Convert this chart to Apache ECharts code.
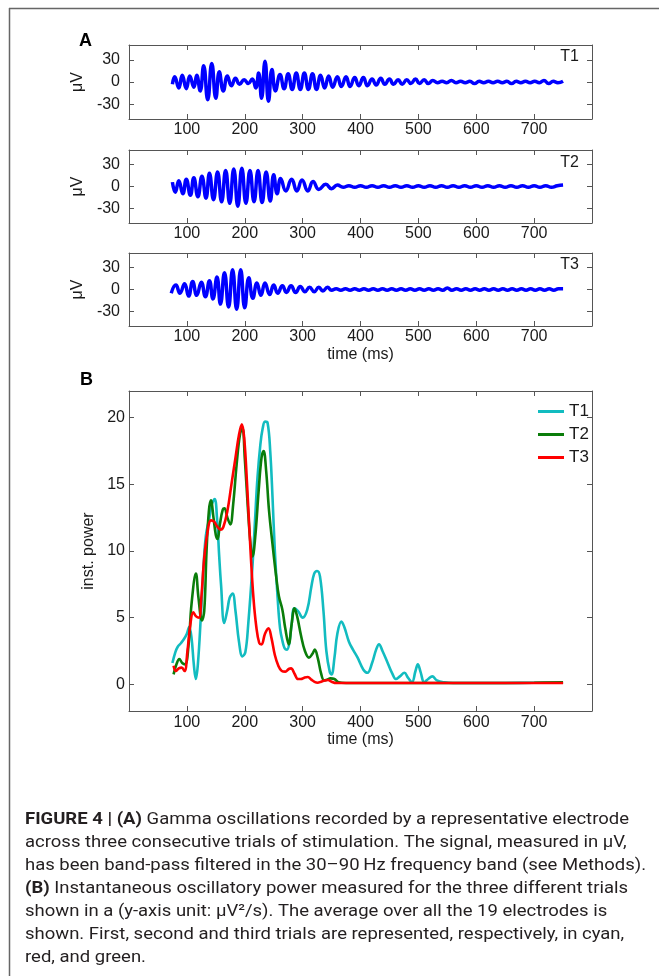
<!DOCTYPE html>
<html>
<head>
<meta charset="utf-8">
<script src="https://cdn.jsdelivr.net/npm/echarts@6/dist/echarts.min.js"></script>
<style>
html,body{margin:0;padding:0;background:#fff;}
#chart{width:659px;height:976px;}
</style>
</head>
<body>
<div id="chart"></div>
<script>
// ---------------- DATA ----------------
const xTicks = [100, 200, 300, 400, 500, 600, 700];
const yTicksA = [-30, 0, 30];
const yTicksB = [0, 5, 10, 15, 20];
const trialNames = ['T1', 'T2', 'T3'];

// Panel A: band-pass filtered signal (uV), read at extrema
const a1T = [75,79,86,92,99,105,112,117,123,129,136,143,150,156,163,170,177,184,191,199,206,213,219,224,229,235,241,247,253,261,268,275,282,289,296,303,310,317,324,331,338,345,352,360,367,375,382,390,397,405,412,420,427,435,442,450,457,465,472,480,487,495,502,510,517,525,533,541,549,557,565,573,581,589,597,605,613,621,629,637,645,653,661,669,677,685,693,701,709,717,725,733,741,750];
const a1V = [-3,7,-8,9,-9,8,-7,9,-12,22,-24,25,-22,14,-12,8,-5,5,-3,3,-2,4,-8,12,-22,28,-26,17,-12,10,-9,11,-10,12,-10,12,-10,11,-10,9,-8,8,-7,7,-6,7,-6,6,-5,6,-5,4,-4,5,-3,4,-3,3,-3,3,-2,4,-2,3,-2,2,-1,1,-1,2,-1,1,-1,1,-2,1,-1,1,-1,1,-1,1,-2,1,-1,1,-1,1,-1,2,-2,1,-1,1,-1,1];

const a2T = [75,80,86,93,99,106,112,119,126,133,139,146,153,160,167,174,181,188,195,202,209,216,223,230,237,244,250,256,262,271,281,290,299,309,318,328,340,350,360,370,380,390,400,410,420,430,440,450,460,470,480,490,500,510,520,530,540,550,560,570,580,590,600,610,620,630,640,650,660,670,680,690,700,710,720,730,740,750];
const a2V = [6,-8,8,-10,10,-12,12,-14,14,-16,18,-18,20,-21,22,-23,24,-27,25,-23,22,-21,22,-22,20,-20,16,-10,11,-6,10,-6,9,-6,7,-4,3,-3,2,-1,1,-1,1,-1,1,-1,1,-1,1,-1,1,-1,1,-1,1,-1,1,-1,1,-1,1,-1,1,-1,1,-1,1,-1,1,-1,1,-1,1,-1,1,-1,1,2];

const a3T = [73,81,88,96,103,110,117,125,132,139,145,152,158,165,172,179,186,193,200,207,214,221,228,235,243,250,257,265,272,280,288,296,304,312,320,328,335,343,350,358,366,374,382,390,398,406,414,422,430,438,446,454,462,470,478,486,494,502,510,518,526,534,542,550,558,566,574,582,590,598,606,614,622,630,638,646,654,662,670,678,686,694,702,710,718,726,734,742,750];
const a3V = [-5,6,-5,8,-9,11,-8,10,-10,12,-13,17,-20,23,-24,27,-27,27,-25,16,-12,9,-8,9,-7,6,-5,5,-4,5,-4,4,-3,3,-3,3,-2,3,-1,1,-1,1,-1,1,-1,1,-1,1,-1,1,-1,1,-1,1,-1,1,-1,1,-1,1,-1,1,-1,2,-1,1,-1,1,-1,1,-1,1,-1,1,-1,1,-1,1,-1,1,-1,1,-1,1,-1,1,-1,1,1];

// Panel B: instantaneous power
const b1T = [75,80,84,90,95,100,104,108,112,115.5,119,124,129,133,138.5,143,148,152,156,159,164.6,170,174,179,184,190,196,201,206,213.5,218,222,227,231,235,239.5,244,248,252,256.8,261,265.4,269,273,277,281,285.6,292,300,308,315,320,325,330,336,341,347,350,355,360,367,372,380,387,395,405,412,420,427,432,438,447,455,461,468,476,482,489,495,499,504,510,517,524,532,545,560,600,650,700,750];
const b1V = [1.6,2.4,2.8,3.1,3.4,3.8,4.3,3.5,1.5,0.4,1.5,5,9,11.2,12.4,13.5,13.9,12.5,9.5,7.5,4.6,5.6,6.5,6.8,5.5,3.2,2.1,2.4,4.5,9,12.5,15.5,18,19.2,19.7,19.6,17.5,14,10,6.5,4.2,3.2,2.7,2.6,3.1,4.5,5.7,5.5,5.0,5.6,7.3,8.3,8.5,8.1,5.5,2.5,0.9,0.75,2.0,3.8,4.7,4.3,3.2,2.6,2.0,1.1,0.87,1.6,2.6,3.0,2.5,1.6,0.8,0.4,0.6,0.87,0.5,0.17,1.0,1.5,0.9,0.17,0.4,0.6,0.3,0.15,0.1,0.1,0.1,0.12,0.12];

const b2T = [77,82,87,92,97,103,108,115.6,120,126,130,134,138,141.5,146,150,153,157,162,165,170,175,180,186,192,196,200,205,210,213.5,218,224,229,232.6,237,242,248,254,259,265,270,276,281,286,291,297,304,311,317,321,326,332,337,342,348,355,362,375,420,500,600,700,750];
const b2V = [0.75,1.5,1.9,1.6,1.5,3,6,8.3,6.5,4.8,5.5,10,13,13.8,12.5,11.2,10.9,12,13.1,13.2,12.5,12.0,13.5,16.5,18.8,19.2,17,13.5,10.5,9.6,11,14.5,17,17.5,16,13,10.5,8.2,6.6,5.6,4.2,3.0,4.5,5.7,5.0,3.7,2.5,2.0,2.3,2.6,2.0,0.8,0.3,0.35,0.45,0.4,0.15,0.1,0.1,0.1,0.1,0.12,0.15];

const b3T = [77,81,86,91,96,101,106,111,116,121,125,130,136,141.5,147,153,158,163,170,177,184,190,195,199,204,210,215,220,225,229,235,241,246,252,258,264,270,276,280,286,292,297,303,309,315,320,326,332,338,344,350,358,380,450,550,650,750];
const b3V = [1.4,1.0,1.2,1.25,1.0,2.5,4.5,5.4,5.1,5.0,6.5,9.5,11.5,12.3,12.2,11.8,11.6,11.8,13,15,17,18.7,19.5,18.5,15,10,6.5,4.3,3.1,3.0,3.8,4.2,3.5,2.2,1.4,1.0,0.95,1.15,1.2,0.8,0.4,0.4,0.5,0.55,0.35,0.2,0.12,0.2,0.28,0.32,0.2,0.1,0.1,0.1,0.1,0.1,0.1];

const captionLines = [
  '{b|FIGURE 4 | (A)} Gamma oscillations recorded by a representative electrode',
  'across three consecutive trials of stimulation. The signal, measured in \u03bcV,',
  'has been band-pass filtered in the 30\u201390\u2009Hz frequency band (see Methods).',
  '{b|(B)} Instantaneous oscillatory power measured for the three different trials',
  'shown in a (y-axis unit: \u03bcV\u00b2/s). The average over all the 19 electrodes is',
  'shown. First, second and third trials are represented, respectively, in cyan,',
  'red, and green.'
];

// ---------------- BUILD ----------------
const zip = (t, v) => t.map((x, i) => [x, v[i]]);
const FONT = '"Liberation Sans", Arial, sans-serif';
const TXT = '#1a1a1a';
const AX = '#555';

const grids = [
  {left: 129, top: 45, width: 463, height: 74},
  {left: 129, top: 150, width: 463, height: 73},
  {left: 129, top: 253, width: 463, height: 73},
  {left: 129, top: 391, width: 463, height: 320}
];

const xAxes = [], yAxes = [];
grids.forEach((g, i) => {
  const isB = i === 3;
  const showName = i >= 2;
  xAxes.push({
    type: 'value', gridIndex: i, position: 'bottom', min: 0, max: 800, interval: 100,
    axisLine: {show: true, onZero: false, lineStyle: {color: AX, width: 1}},
    axisTick: {show: true, inside: true, length: 5, lineStyle: {color: AX}},
    axisLabel: {show: true, showMinLabel: false, showMaxLabel: false, color: TXT, fontSize: 16, fontFamily: FONT, margin: isB ? 4 : 3},
    splitLine: {show: false},
    name: showName ? 'time (ms)' : '', nameLocation: 'middle', nameGap: isB ? 19 : 21,
    nameTextStyle: {color: TXT, fontSize: 16, fontFamily: FONT}
  });
  xAxes.push({
    type: 'value', gridIndex: i, position: 'top', min: 0, max: 800, interval: 100,
    axisLine: {show: true, onZero: false, lineStyle: {color: AX, width: 1}},
    axisTick: {show: true, inside: true, length: 5, lineStyle: {color: AX}},
    axisLabel: {show: false}, splitLine: {show: false}
  });
  const ticks = isB ? yTicksB : yTicksA;
  const ymin = isB ? -2 : -50, ymax = isB ? 22 : 50;
  yAxes.push({
    type: 'value', gridIndex: i, position: 'left', min: ymin, max: ymax,
    axisLine: {show: true, onZero: false, lineStyle: {color: AX, width: 1}},
    axisTick: {show: true, inside: true, length: 5, customValues: ticks, lineStyle: {color: AX}},
    axisLabel: {show: true, customValues: ticks, color: TXT, fontSize: 16, fontFamily: FONT, margin: isB ? 4 : 9},
    splitLine: {show: false},
    name: isB ? 'inst. power' : '\u03bcV', nameLocation: 'middle', nameRotate: 90, nameGap: isB ? 29 : 37,
    nameTextStyle: {color: TXT, fontSize: 16, fontFamily: FONT}
  });
  yAxes.push({
    type: 'value', gridIndex: i, position: 'right', min: ymin, max: ymax,
    axisLine: {show: true, onZero: false, lineStyle: {color: AX, width: 1}},
    axisTick: {show: true, inside: true, length: 5, customValues: ticks, lineStyle: {color: AX}},
    axisLabel: {show: false}, splitLine: {show: false}
  });
});

const aSeries = [[a1T, a1V], [a2T, a2V], [a3T, a3V]].map((d, i) => ({
  type: 'line', name: 'A' + (i + 1), xAxisIndex: 2 * i, yAxisIndex: 2 * i,
  data: zip(d[0], d[1]), showSymbol: false, smooth: 0.5,
  lineStyle: {color: '#0000ff', width: 3.5}, itemStyle: {color: '#0000ff'}, silent: true
}));

const bColors = ['#12bcc0', '#0a7d0a', '#ff0000'];
const bSeries = [[b1T, b1V], [b2T, b2V], [b3T, b3V]].map((d, i) => ({
  type: 'line', name: trialNames[i], xAxisIndex: 6, yAxisIndex: 6,
  data: zip(d[0], d[1]), showSymbol: false, smooth: 0.4,
  lineStyle: {color: bColors[i], width: 2.6}, itemStyle: {color: bColors[i]}, silent: true
}));

// caption scaling (condensed look)
const CAP_FONT = 'Roboto, "Liberation Sans", sans-serif';
const cv = document.createElement('canvas').getContext('2d');
cv.font = '17px Roboto';
const capScale = 621 / cv.measureText(captionLines[2]).width;

const graphics = [
  {type: 'line', shape: {x1: 9, y1: 8.5, x2: 659, y2: 8.5}, style: {stroke: '#666', lineWidth: 1.5}},
  {type: 'line', shape: {x1: 9.5, y1: 8, x2: 9.5, y2: 976}, style: {stroke: '#666', lineWidth: 1.5}},
  {type: 'text', x: 79, y: 41, style: {text: 'A', font: 'bold 18px ' + FONT, fill: '#000', textVerticalAlign: 'middle'}},
  {type: 'text', x: 80, y: 380, style: {text: 'B', font: 'bold 18px ' + FONT, fill: '#000', textVerticalAlign: 'middle'}}
];
[57, 163, 265].forEach((y, i) => {
  graphics.push({type: 'text', x: 579, y: y, style: {text: trialNames[i], font: '16px ' + FONT, fill: TXT, textAlign: 'right', textVerticalAlign: 'middle'}});
});
captionLines.forEach((t, i) => {
  graphics.push({
    type: 'text', x: 25, y: 820 + i * 23, scaleX: capScale, scaleY: 1,
    style: {
      text: t, font: '17px ' + CAP_FONT, fill: '#231f20', textVerticalAlign: 'middle',
      rich: {b: {fontWeight: 'bold', fontSize: 17, fontFamily: CAP_FONT, fill: '#231f20'}}
    }
  });
});

const chart = echarts.init(document.getElementById('chart'), null, {renderer: 'canvas'});
chart.setOption({
  animation: false,
  backgroundColor: '#fff',
  textStyle: {fontFamily: FONT},
  grid: grids,
  xAxis: xAxes,
  yAxis: yAxes,
  legend: {
    data: trialNames, orient: 'vertical', left: 533, top: 398, icon: 'rect',
    itemWidth: 26, itemHeight: 3, itemGap: 6, itemTextGap: 4,
    textStyle: {color: TXT, fontSize: 17, fontFamily: FONT, lineHeight: 17},
    selectedMode: false
  },
  series: aSeries.concat(bSeries),
  graphic: graphics
});
</script>
</body>
</html>
